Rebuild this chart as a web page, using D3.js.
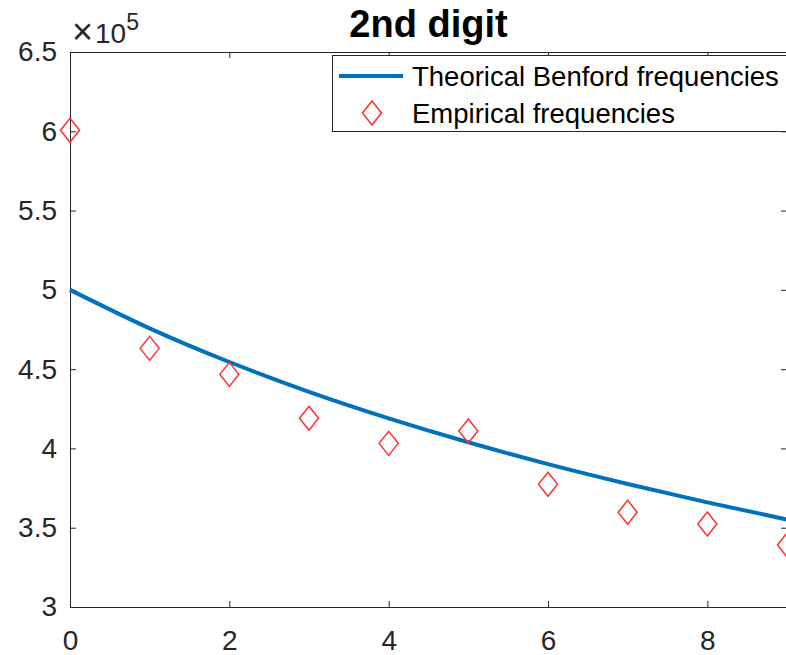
<!DOCTYPE html>
<html>
<head>
<meta charset="utf-8">
<script src="https://cdn.jsdelivr.net/npm/d3@7"></script>
<style>
  body { margin: 0; background: #fff; }
  svg { font-family: "Liberation Sans", Arial, Helvetica, sans-serif; }
  .axis path, .axis line { stroke: #262626; stroke-width: 1; }
  .axis text { fill: #262626; font-size: 28px; }
</style>
</head>
<body>
<svg id="chart" width="786" height="655"></svg>
<script>
// second digit (0-9), values in units of 1e5
const digits = [0, 1, 2, 3, 4, 5, 6, 7, 8, 9];
const theoretical = [5.00, 4.757, 4.545, 4.357, 4.190, 4.039, 3.901, 3.776, 3.660, 3.552];
const empirical = [6.007, 4.631, 4.467, 4.190, 4.032, 4.110, 3.774, 3.597, 3.523, 3.391];
const xTicks = [0, 2, 4, 6, 8];
const yTicks = [3, 3.5, 4, 4.5, 5, 5.5, 6, 6.5];
const legendLabels = ['Theorical Benford frequencies', 'Empirical frequencies'];

const svg = d3.select('#chart');
const plotLeft = 70, plotRight = 787, plotTop = 52, plotBottom = 607;

const x = d3.scaleLinear().domain([0, 9]).range([plotLeft, plotRight]);
const y = d3.scaleLinear().domain([3, 6.5]).range([plotBottom, plotTop]);

// axes (box on, ticks pointing inward)
svg.append('g')
  .attr('class', 'axis')
  .attr('transform', `translate(0, ${plotBottom})`)
  .call(d3.axisBottom(x).tickValues(xTicks).tickSizeInner(-6).tickSizeOuter(0).tickPadding(23));

svg.append('g')
  .attr('class', 'axis')
  .attr('transform', `translate(${plotLeft}, 0)`)
  .call(d3.axisLeft(y).tickValues(yTicks).tickSizeInner(-6).tickSizeOuter(0).tickPadding(13)
    .tickFormat(d3.format('')));

svg.append('g')
  .attr('class', 'axis')
  .attr('transform', `translate(0, ${plotTop})`)
  .call(d3.axisTop(x).tickValues(xTicks).tickSizeInner(-6).tickSizeOuter(0).tickFormat(''));

svg.append('g')
  .attr('class', 'axis')
  .attr('transform', `translate(${plotRight}, 0)`)
  .call(d3.axisRight(y).tickValues(yTicks).tickSizeInner(-6).tickSizeOuter(0).tickFormat(''));

// exponent label
const expo = svg.append('text')
  .attr('x', 72)
  .attr('y', 43)
  .attr('fill', '#262626')
  .style('font-size', '28px');
expo.append('tspan').style('font-size', '36px').style('font-weight', '300').attr('dy', 1).text('\u00d7');
expo.append('tspan').attr('dy', -1).attr('dx', 2).text('10');
expo.append('tspan').attr('dy', -13).style('font-size', '23px').text('5');

// title
svg.append('text')
  .attr('x', (plotLeft + plotRight) / 2)
  .attr('y', 37)
  .attr('text-anchor', 'middle')
  .attr('font-weight', 'bold')
  .style('font-size', '38px')
  .attr('fill', '#000')
  .text('2nd digit');

// theoretical curve
const line = d3.line()
  .x((d, i) => x(digits[i]))
  .y(d => y(d))
  .curve(d3.curveNatural);

svg.append('path')
  .datum(theoretical)
  .attr('d', line)
  .attr('fill', 'none')
  .attr('stroke', '#0072BD')
  .attr('stroke-width', 4);

// empirical diamonds
const diamond = (cx, cy) => `M${cx},${cy - 12}L${cx + 9.5},${cy}L${cx},${cy + 12}L${cx - 9.5},${cy}Z`;

svg.selectAll('.emp')
  .data(empirical)
  .enter()
  .append('path')
  .attr('class', 'emp')
  .attr('d', (d, i) => diamond(x(digits[i]), y(d)))
  .attr('fill', 'none')
  .attr('stroke', '#ff3030')
  .attr('stroke-width', 1.5);

// legend
const legend = svg.append('g');
legend.append('rect')
  .attr('x', 332.5)
  .attr('y', 55.5)
  .attr('width', 470)
  .attr('height', 76)
  .attr('fill', '#fff')
  .attr('stroke', '#262626')
  .attr('stroke-width', 1);

legend.append('line')
  .attr('x1', 339).attr('x2', 403)
  .attr('y1', 76).attr('y2', 76)
  .attr('stroke', '#0072BD')
  .attr('stroke-width', 4);

legend.append('path')
  .attr('d', diamond(372, 113))
  .attr('fill', 'none')
  .attr('stroke', '#ff3030')
  .attr('stroke-width', 1.5);

legend.selectAll('.leg-text')
  .data(legendLabels)
  .enter()
  .append('text')
  .attr('class', 'leg-text')
  .attr('x', 412)
  .attr('y', (d, i) => 76 + i * 37)
  .attr('dy', '0.35em')
  .attr('fill', '#000')
  .style('font-size', '27.5px')
  .text(d => d);
</script>
</body>
</html>
